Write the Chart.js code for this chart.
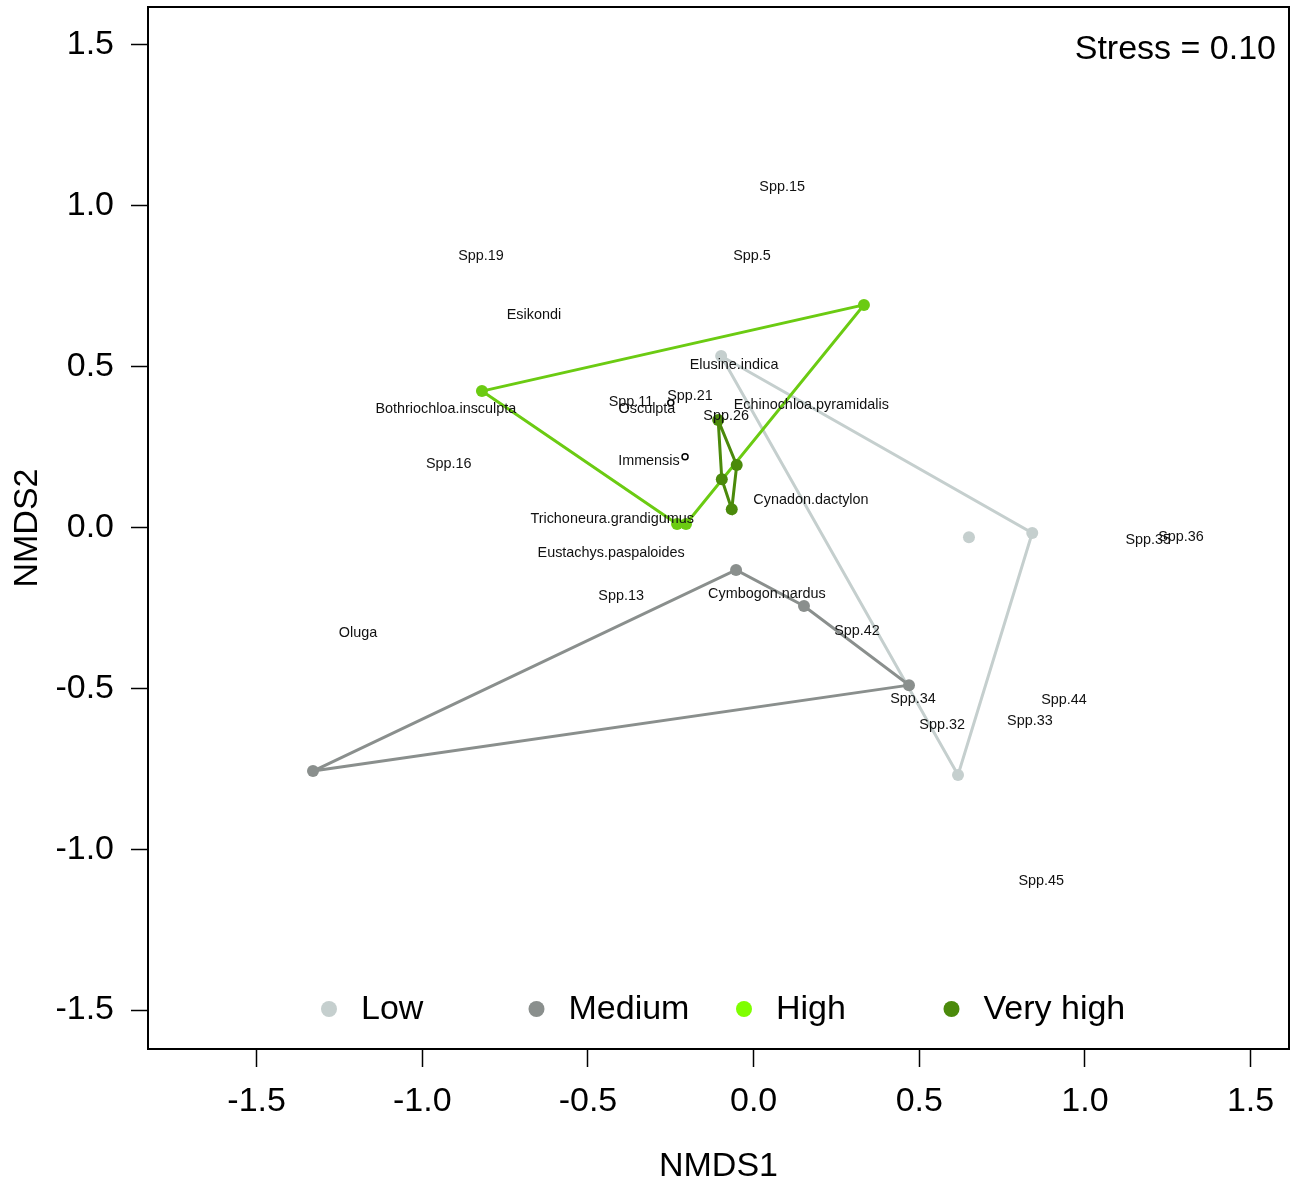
<!DOCTYPE html>
<html>
<head>
<meta charset="utf-8">
<title>NMDS ordination</title>
<script src="https://cdn.jsdelivr.net/npm/chart.js@4.4.1/dist/chart.umd.min.js"></script>
<style>
  html, body { margin: 0; padding: 0; background: #fff; }
</style>
</head>
<body>
<canvas id="nmds" width="1297" height="1187"></canvas>
<script>
// site scores for each group
const groupNames = ["Low", "Medium", "High", "Very high"];
const lowX = [-0.098, 0.650, 0.841, 0.617];
const lowY = [0.533, -0.030, -0.017, -0.769];
const mediumX = [-0.053, 0.152, 0.469, -1.330];
const mediumY = [-0.132, -0.244, -0.490, -0.757];
const highX = [-0.820, 0.333, -0.204, -0.231];
const highY = [0.424, 0.692, 0.011, 0.011];
const veryHighX = [-0.107, -0.051, -0.066, -0.096];
const veryHighY = [0.334, 0.194, 0.057, 0.150];

// species scores (text labels) and the two species drawn as open circles
const speciesNames = [
  "Spp.15", "Spp.19", "Spp.5", "Esikondi", "Elusine.indica",
  "Bothriochloa.insculpta", "Spp.11", "Osculpta", "Spp.21",
  "Echinochloa.pyramidalis", "Spp.26", "Spp.16", "Immensis",
  "Cynadon.dactylon", "Trichoneura.grandigumus", "Eustachys.paspaloides",
  "Spp.13", "Cymbogon.nardus", "Spp.42", "Oluga", "Spp.34", "Spp.32",
  "Spp.44", "Spp.33", "Spp.35", "Spp.36", "Spp.45"
];
const speciesX = [
  0.086, -0.823, -0.005, -0.663, -0.059,
  -0.929, -0.370, -0.322, -0.192,
  0.174, -0.083, -0.920, -0.316,
  0.173, -0.427, -0.430,
  -0.400, 0.040, 0.312, -1.194, 0.481, 0.569,
  0.937, 0.834, 1.191, 1.290, 0.868
];
const speciesY = [
  1.059, 0.844, 0.844, 0.661, 0.505,
  0.368, 0.390, 0.368, 0.409,
  0.381, 0.347, 0.197, 0.207,
  0.085, 0.026, -0.079,
  -0.213, -0.207, -0.322, -0.328, -0.533, -0.614,
  -0.536, -0.601, -0.039, -0.030, -1.099
];
const openX = [-0.250, -0.207];
const openY = [0.388, 0.220];

const xTicks = [-1.5, -1.0, -0.5, 0.0, 0.5, 1.0, 1.5];
const yTicks = [-1.5, -1.0, -0.5, 0.0, 0.5, 1.0, 1.5];
const stressText = "Stress = 0.10";

const FONT = '"Liberation Sans", Arial, Helvetica, sans-serif';
const lineColors = ["#c5cfce", "#8a8f8d", "#6bcb12", "#4b8a0b"];
const legendColors = ["#c5cfce", "#8a8f8d", "#7fff00", "#4b8a0b"];

// convex hull (monotone chain), returned closed
function hull(xs, ys) {
  const pts = xs.map((x, i) => ({ x, y: ys[i] })).sort((a, b) => a.x - b.x || a.y - b.y);
  const cross = (o, a, b) => (a.x - o.x) * (b.y - o.y) - (a.y - o.y) * (b.x - o.x);
  const lower = [], upper = [];
  for (const p of pts) {
    while (lower.length >= 2 && cross(lower[lower.length - 2], lower[lower.length - 1], p) <= 0) lower.pop();
    lower.push(p);
  }
  for (let i = pts.length - 1; i >= 0; i--) {
    const p = pts[i];
    while (upper.length >= 2 && cross(upper[upper.length - 2], upper[upper.length - 1], p) <= 0) upper.pop();
    upper.push(p);
  }
  const h = lower.slice(0, -1).concat(upper.slice(0, -1));
  h.push(h[0]);
  return h;
}

const groups = [[lowX, lowY], [mediumX, mediumY], [highX, highY], [veryHighX, veryHighY]];
const datasets = [];
groups.forEach(([xs, ys], i) => {
  // hull outline
  datasets.push({
    label: groupNames[i] + " hull",
    data: hull(xs, ys),
    showLine: true,
    borderColor: lineColors[i],
    borderWidth: 3,
    pointRadius: 0,
    order: 10 - i * 2
  });
  // site points
  datasets.push({
    label: groupNames[i],
    data: xs.map((x, j) => ({ x, y: ys[j] })),
    backgroundColor: lineColors[i],
    borderWidth: 0,
    pointRadius: 6,
    order: 9 - i * 2
  });
});
datasets.push({
  label: "species",
  data: openX.map((x, j) => ({ x, y: openY[j] })),
  backgroundColor: "#fff",
  borderColor: "#000",
  borderWidth: 1.5,
  pointRadius: 3,
  order: 0
});

// frame, species names, stress and legend
const extras = {
  id: "extras",
  afterDatasetsDraw(chart) {
    const { ctx, chartArea: a, scales: { x, y } } = chart;
    ctx.save();
    ctx.font = "14.4px " + FONT;
    ctx.fillStyle = "#111";
    ctx.textAlign = "center";
    ctx.textBaseline = "middle";
    speciesNames.forEach((n, i) => {
      ctx.fillText(n, x.getPixelForValue(speciesX[i]), y.getPixelForValue(speciesY[i]));
    });

    ctx.strokeStyle = "#000";
    ctx.lineWidth = 2;
    ctx.strokeRect(a.left, a.top, a.right - a.left, a.bottom - a.top);

    ctx.fillStyle = "#000";
    ctx.font = "34px " + FONT;
    ctx.textAlign = "right";
    ctx.fillText(stressText, a.right - 13, a.top + 43);

    // legend along the bottom of the plot
    ctx.textAlign = "left";
    const ly = a.bottom - 40;
    groupNames.forEach((n, i) => {
      const lx = a.left + 181 + i * 207.5;
      ctx.beginPath();
      ctx.arc(lx, ly, 8, 0, Math.PI * 2);
      ctx.fillStyle = legendColors[i];
      ctx.fill();
      ctx.fillStyle = "#000";
      ctx.fillText(n, lx + 32, ly + 1);
    });
    ctx.restore();
  }
};

const tickFont = { size: 34, family: FONT };

new Chart(document.getElementById("nmds"), {
  type: "scatter",
  data: { datasets },
  options: {
    responsive: false,
    animation: false,
    layout: { padding: { top: 7, right: 8, left: 0, bottom: 0 } },
    plugins: { legend: { display: false }, tooltip: { enabled: false } },
    scales: {
      x: {
        type: "linear",
        min: -1.828,
        max: 1.616,
        afterBuildTicks: s => { s.ticks = xTicks.map(v => ({ value: v })); },
        afterFit: s => { s.height = 138; s.paddingLeft = 0; s.paddingRight = 0; },
        border: { display: false },
        grid: { drawOnChartArea: false, drawTicks: true, tickLength: 18, tickColor: "#000", tickWidth: 1.5 },
        ticks: { color: "#000", font: tickFont, padding: 14, maxRotation: 0, autoSkip: false,
                 callback: v => Number(v).toFixed(1) },
        title: { display: true, text: "NMDS1", color: "#000", font: tickFont, padding: { top: 0, bottom: 0 } }
      },
      y: {
        type: "linear",
        min: -1.621,
        max: 1.618,
        afterBuildTicks: s => { s.ticks = yTicks.map(v => ({ value: v })); },
        afterFit: s => { s.width = 148; s.paddingTop = 0; s.paddingBottom = 0; },
        border: { display: false },
        grid: { drawOnChartArea: false, drawTicks: true, tickLength: 17, tickColor: "#000", tickWidth: 1.5 },
        ticks: { color: "#000", font: tickFont, padding: 17, autoSkip: false,
                 callback: v => Number(v).toFixed(1) },
        title: { display: true, text: "NMDS2", color: "#000", font: tickFont, padding: { top: 7, bottom: 0 } }
      }
    }
  },
  plugins: [extras]
});
</script>
</body>
</html>
